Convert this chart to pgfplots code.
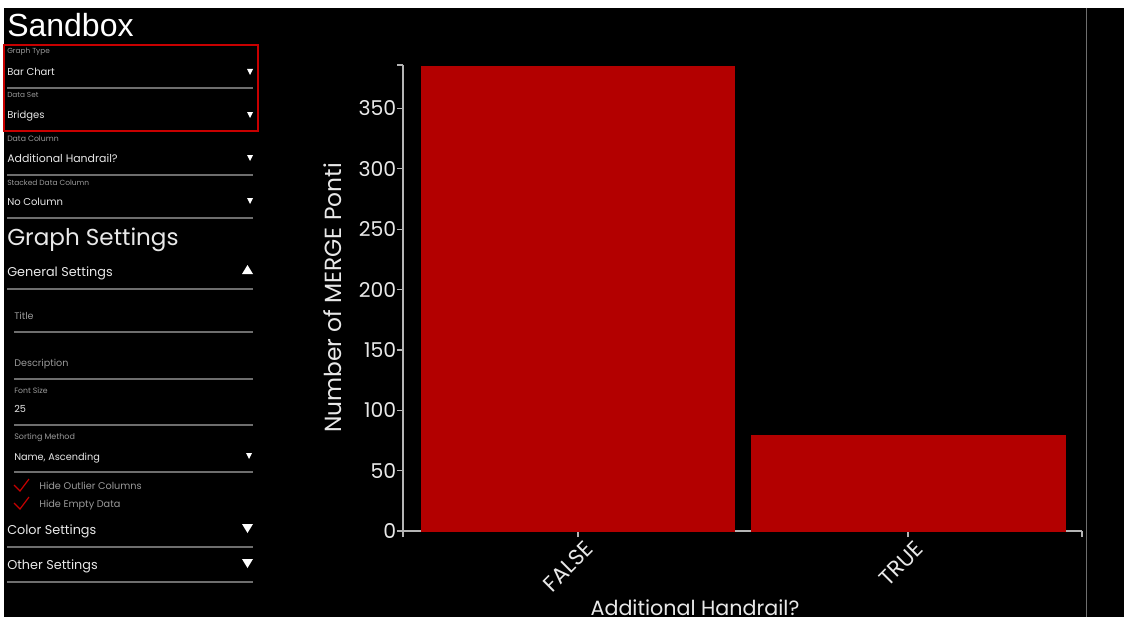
\documentclass[border=0pt]{standalone}
\usepackage{pgfplots}
\pgfplotsset{compat=1.18}
\usepackage{pgfplotstable}
\usepackage{fontspec}
\setmainfont{Poppins}
\newfontfamily\arialfont{Liberation Sans}
\definecolor{barred}{HTML}{B30000}
\definecolor{boxred}{HTML}{C80000}
\definecolor{axisgray}{HTML}{B4B4B4}
\definecolor{txt}{HTML}{E8E8E8}
\definecolor{dim}{HTML}{9A9A9A}
\definecolor{rulec}{HTML}{6E6E6E}
\newcommand{\fs}[1]{\fontsize{#1}{#1}\selectfont}

\pgfplotstableread{
x y
0 385
1 79
}\datatable

\begin{document}
\begin{tikzpicture}
\useasboundingbox (0,0) rectangle (843pt,-462.75pt);
\clip (0,0) rectangle (843pt,-462.75pt);
\begin{scope}[x=0.75pt,y=-0.75pt]
\fill[white] (0,0) rectangle (1124,617);
\fill[black] (4,8) rectangle (1124,617);
\draw[rulec, line width=0.75pt] (1086,8) -- (1086,617);
% sidebar
\tikzset{lab/.style={anchor=base west, inner sep=0pt}}
\node[lab, text=white, font=\arialfont\fs{24}] at (7,37) {Sandbox};
\draw[boxred, line width=1.5pt] (4,45) rectangle (258,131);
\node[lab, text=dim, font=\fs{5.5}] at (7,54) {Graph Type};
\node[lab, text=txt, font=\fs{7.5}] at (7,76) {Bar Chart};
\node[lab, text=dim, font=\fs{5.5}] at (7,98) {Data Set};
\node[lab, text=txt, font=\fs{7.5}] at (7,118) {Bridges};
\node[lab, text=dim, font=\fs{5.8}] at (7,142) {Data Column};
\node[lab, text=txt, font=\fs{8.2}] at (7,162) {Additional Handrail?};
\node[lab, text=dim, font=\fs{5.6}] at (7,185) {Stacked Data Column};
\node[lab, text=txt, font=\fs{7.5}] at (7,205) {No Column};
\foreach \yy in {72,115,158,201} {\fill[white] (247,\yy-3) -- (253,\yy-3) -- (250,\yy+3) -- cycle;}
\foreach \yy in {88,175,218} {\draw[rulec, line width=1.1pt] (7,\yy) -- (253,\yy);}
\node[lab, text=txt, font=\fs{17.3}] at (7,245) {Graph Settings};
\node[lab, text=txt, font=\fs{9.6}] at (7,276) {General Settings};
\fill[white] (242,274) -- (253,274) -- (247.5,265) -- cycle;
\draw[rulec, line width=1.1pt] (7,289) -- (253,289);
\node[lab, text=dim, font=\fs{7.2}] at (14,319) {Title};
\draw[rulec, line width=1.1pt] (14,332) -- (253,332);
\node[lab, text=dim, font=\fs{7.2}] at (14,366) {Description};
\draw[rulec, line width=1.1pt] (14,379) -- (253,379);
\node[lab, text=dim, font=\fs{5.8}] at (14,393) {Font Size};
\node[lab, text=txt, font=\fs{7.3}] at (14,412) {25};
\draw[rulec, line width=1.1pt] (14,425) -- (253,425);
\node[lab, text=dim, font=\fs{6}] at (14,439) {Sorting Method};
\node[lab, text=txt, font=\fs{7.3}] at (14,460) {Name, Ascending};
\fill[white] (246,453) -- (252,453) -- (249,459) -- cycle;
\draw[rulec, line width=1.1pt] (14,472) -- (253,472);
\foreach \yy in {0,18} {\draw[boxred, line width=0.9pt] (14,485+\yy) -- (20,491+\yy) -- (29,479+\yy);}
\node[lab, text=dim, font=\fs{7.3}] at (39,489) {Hide Outlier Columns};
\node[lab, text=dim, font=\fs{7.3}] at (39,507) {Hide Empty Data};
\node[lab, text=txt, font=\fs{9.6}] at (7,534) {Color Settings};
\fill[white] (242,524) -- (253,524) -- (247.5,533) -- cycle;
\draw[rulec, line width=1.1pt] (7,547) -- (253,547);
\node[lab, text=txt, font=\fs{9.6}] at (7,569) {Other Settings};
\fill[white] (242,559) -- (253,559) -- (247.5,568) -- cycle;
\draw[rulec, line width=1.1pt] (7,582) -- (253,582);
\end{scope}
\begin{axis}[
  at={(302.25pt,-398.25pt)}, anchor=south west,
  scale only axis, width=509.25pt, height=349.5pt,
  xmin=-0.53, xmax=1.527, ymin=0, ymax=386,
  axis lines=left, axis line style={-, axisgray, line width=0.9pt},
  ybar, bar width=0.95,
  xtick={0,1}, xticklabels={FALSE,TRUE},
  extra x ticks={-0.53,1.527}, extra x tick labels={},
  ytick={0,50,...,350},
  extra y ticks={386}, extra y tick labels={},
  tick align=outside, major tick length=4.5pt,
  tick style={axisgray, line width=0.9pt},
  extra tick style={tick style={axisgray, line width=0.9pt}},
  /pgf/number format/assume math mode=true,
  ticklabel style={font=\fs{15.3}, text=txt},
  yticklabel style={xshift=3pt},
  xticklabel style={rotate=45, anchor=north east, font=\fs{16.5}, xshift=5pt, yshift=-1pt},
  ylabel={Number of MERGE Ponti}, xlabel={Additional Handrail?},
  label style={font=\fs{15.5}, text=txt},
  ylabel style={at={(axis description cs:-0.103,0.5)}, anchor=center, inner sep=0pt, font=\fs{17.5}},
  xlabel style={at={(axis description cs:0.43,0)}, anchor=north, yshift=-51pt, inner sep=0pt},
]
\addplot[fill=barred, draw=barred] table[x=x, y=y] {\datatable};
\end{axis}
\end{tikzpicture}
\end{document}
